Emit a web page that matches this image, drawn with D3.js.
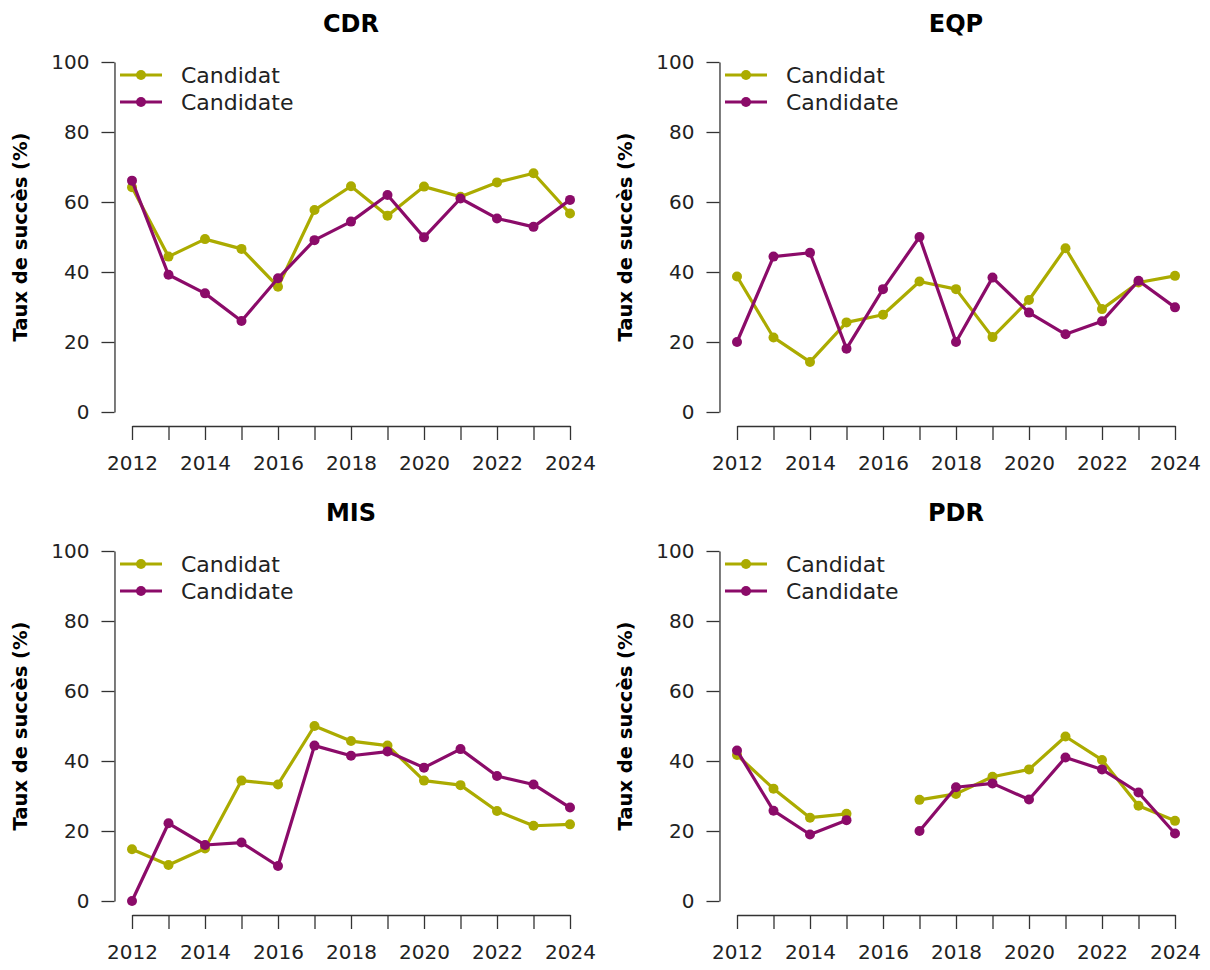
<!DOCTYPE html>
<html>
<head>
<meta charset="utf-8">
<script src="https://cdn.jsdelivr.net/npm/d3@7"></script>
<style>
  body { margin: 0; background: #fff; }
  svg { font-family: "DejaVu Sans", sans-serif; }
  .axis path, .axis line { stroke: #333; stroke-width: 1.3; }
  .axis text { fill: #222; font-size: 20px; font-family: "DejaVu Sans", sans-serif; }
</style>
</head>
<body>
<svg id="canvas" width="1210" height="970"></svg>
<script>
// years and success rates (%)
const years = [2012, 2013, 2014, 2015, 2016, 2017, 2018, 2019, 2020, 2021, 2022, 2023, 2024];
const yTicks = [0, 20, 40, 60, 80, 100];
const xLabels = [2012, 2014, 2016, 2018, 2020, 2022, 2024];
const seriesNames = ['Candidat', 'Candidate'];
const seriesColors = ['#abab00', '#8b0b69'];
const panelNames = ['CDR', 'EQP', 'MIS', 'PDR'];

const cdrCandidat  = [64.2, 44.4, 49.4, 46.6, 35.8, 57.7, 64.5, 56.1, 64.4, 61.5, 65.6, 68.2, 56.7];
const cdrCandidate = [66.1, 39.2, 33.9, 26.0, 38.2, 49.1, 54.4, 62.0, 49.9, 61.0, 55.3, 52.9, 60.6];
const eqpCandidat  = [38.7, 21.3, 14.3, 25.6, 27.8, 37.3, 35.1, 21.4, 32.0, 46.8, 29.4, 37.0, 38.9];
const eqpCandidate = [20.0, 44.4, 45.5, 18.1, 35.1, 50.0, 20.0, 38.4, 28.4, 22.2, 25.9, 37.5, 29.9];
const misCandidat  = [14.8, 10.3, 15.0, 34.4, 33.3, 50.0, 45.7, 44.4, 34.4, 33.1, 25.7, 21.5, 21.9];
const misCandidate = [0.0, 22.2, 16.0, 16.7, 10.0, 44.4, 41.5, 42.7, 38.1, 43.4, 35.7, 33.3, 26.7];
const pdrCandidat  = [41.7, 32.1, 23.8, 24.9, null, 28.9, 30.6, 35.5, 37.6, 47.0, 40.3, 27.2, 22.9];
const pdrCandidate = [43.0, 25.8, 19.0, 23.1, null, 20.0, 32.5, 33.6, 29.0, 41.0, 37.6, 31.0, 19.3];

const panelSeries = [
    [cdrCandidat, cdrCandidate],
    [eqpCandidat, eqpCandidate],
    [misCandidat, misCandidate],
    [pdrCandidat, pdrCandidate]
];

const COL_STEP = 605;
const ROW_STEP = 489;

let x = d3.scaleLinear().domain([2012, 2024]).range([132, 570]);
let y = d3.scaleLinear().domain([0, 100]).range([412, 62]);
// plot region in R style: 4% padding on each side
let xPad = (x(2024) - x(2012)) * 0.04;
let yPad = (y(0) - y(100)) * 0.04;
let plotLeft = x(2012) - xPad, plotRight = x(2024) + xPad, plotBottom = y(0) + yPad;

let svg = d3.select('#canvas');

panelNames.forEach(function (name, i) {
    let g = svg.append('g')
        .attr('transform', `translate(${(i % 2) * COL_STEP},${Math.floor(i / 2) * ROW_STEP})`);

    g.append('text')
        .attr('x', (plotLeft + plotRight) / 2)
        .attr('y', 32)
        .attr('text-anchor', 'middle')
        .style('font-weight', 'bold')
        .style('font-size', '24px')
        .text(name);

    g.append('g').classed('axis', true)
        .attr('transform', `translate(${plotLeft},0)`)
        .call(d3.axisLeft(y).tickValues(yTicks).tickSize(13).tickSizeOuter(0).tickPadding(12));

    g.append('g').classed('axis', true)
        .attr('transform', `translate(0,${plotBottom})`)
        .call(d3.axisBottom(x).tickValues(years).tickSize(14).tickSizeOuter(0).tickPadding(16)
            .tickFormat((d) => xLabels.includes(d) ? String(d) : ''));

    g.append('text')
        .attr('transform', `translate(27,${(y(0) + y(100)) / 2}) rotate(-90)`)
        .attr('text-anchor', 'middle')
        .style('font-weight', 'bold')
        .style('font-size', '19.5px')
        .text('Taux de succès (%)');

    let line = d3.line()
        .defined((d) => d != null)
        .x((d, j) => x(years[j]))
        .y((d) => y(d));

    panelSeries[i].forEach(function (values, s) {
        g.append('path')
            .attr('d', line(values))
            .attr('fill', 'none')
            .attr('stroke', seriesColors[s])
            .attr('stroke-width', 3.2)
            .attr('stroke-linejoin', 'round');

        g.selectAll(null)
            .data(years.map((yr, j) => ({ yr: yr, v: values[j] })).filter((d) => d.v != null))
            .enter()
            .append('circle')
            .attr('cx', (d) => x(d.yr))
            .attr('cy', (d) => y(d.v))
            .attr('r', 5)
            .attr('fill', seriesColors[s]);
    });

    // legend
    seriesNames.forEach(function (label, s) {
        let ly = 75 + s * 27;
        g.append('line')
            .attr('x1', 120).attr('x2', 162)
            .attr('y1', ly).attr('y2', ly)
            .attr('stroke', seriesColors[s])
            .attr('stroke-width', 3.2);
        g.append('circle')
            .attr('cx', 141).attr('cy', ly).attr('r', 5)
            .attr('fill', seriesColors[s]);
        g.append('text')
            .attr('x', 181).attr('y', ly)
            .attr('dy', '0.36em')
            .style('font-size', '22px')
            .style('fill', '#222')
            .text(label);
    });
});
</script>
</body>
</html>
